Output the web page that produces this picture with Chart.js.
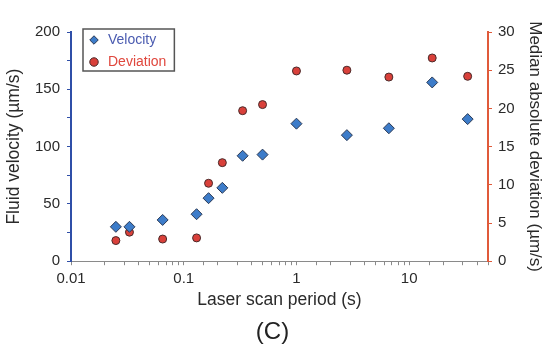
<!DOCTYPE html>
<html>
<head>
<meta charset="utf-8">
<script src="https://cdn.jsdelivr.net/npm/chart.js@4"></script>
<style>html,body{margin:0;padding:0;background:#fff;}</style>
</head>
<body>
<canvas id="myChart" width="545" height="347"></canvas>
<script>
var periods = [0.025, 0.033, 0.065, 0.13, 0.166, 0.22, 0.333, 0.5, 1, 2.8, 6.6, 16, 33];
var velocity = [30, 30, 36, 41, 55, 64, 92, 93, 120, 110, 116, 156, 124];
var deviation = [2.7, 3.8, 2.9, 3.05, 10.2, 12.9, 19.7, 20.5, 24.9, 25, 24.1, 26.6, 24.2];
var seriesNames = ['Velocity', 'Deviation'];
var legendColors = ['#4a5bb0', '#e0473d'];

function toPoints(ys) {
    return periods.map(function (p, i) { return { x: p, y: ys[i] }; });
}

Chart.defaults.font.family = "'Liberation Sans', Arial, sans-serif";
Chart.defaults.color = '#2a2a2a';

// put the legend in the top-left corner of the plot and draw a frame round it
var legendFrame = {
    id: 'legendFrame',
    afterLayout: function (chart) {
        var lg = chart.legend;
        var area = chart.chartArea;
        lg.left = area.left + 8;
        lg.top = area.top - 7;
        lg.right = lg.left + lg.width;
        lg.bottom = lg.top + lg.height;
    },
    afterDraw: function (chart) {
        var boxes = chart.legend.legendHitBoxes;
        if (!boxes || !boxes.length) return;
        var x0 = Infinity, y0 = Infinity, x1 = -Infinity, y1 = -Infinity;
        boxes.forEach(function (b) {
            x0 = Math.min(x0, b.left); y0 = Math.min(y0, b.top);
            x1 = Math.max(x1, b.left + b.width); y1 = Math.max(y1, b.top + b.height);
        });
        var ctx = chart.ctx;
        ctx.save();
        ctx.strokeStyle = '#555';
        ctx.lineWidth = 1.5;
        ctx.strokeRect(x0 - 4, y0 - 4, x1 - x0 + 12, y1 - y0 + 6);
        ctx.restore();
    }
};

var ctx = document.getElementById('myChart').getContext('2d');
var myChart = new Chart(ctx, {
    type: 'scatter',
    data: {
        datasets: [{
            label: seriesNames[0],
            data: toPoints(velocity),
            yAxisID: 'y',
            pointStyle: 'rectRot',
            pointRadius: 5.5,
            backgroundColor: '#3d7cc9',
            borderColor: '#2b3a55',
            borderWidth: 1
        },
        {
            label: seriesNames[1],
            data: toPoints(deviation),
            yAxisID: 'y1',
            pointStyle: 'circle',
            pointRadius: 4,
            backgroundColor: '#d9403a',
            borderColor: '#4a2a2a',
            borderWidth: 1
        }]
    },
    options: {
        responsive: false,
        animation: false,
        layout: { padding: { top: 32, left: 0, right: 0, bottom: 0 } },
        plugins: {
            tooltip: { enabled: false },
            legend: {
                position: 'chartArea',
                align: 'start',
                labels: {
                    usePointStyle: true,
                    boxWidth: 14,
                    boxHeight: 6,
                    padding: 8,
                    font: { size: 14 },
                    generateLabels: function (chart) {
                        var items = Chart.defaults.plugins.legend.labels.generateLabels(chart);
                        items.forEach(function (it, i) { it.fontColor = legendColors[i]; });
                        return items;
                    }
                }
            },
            title: {
                display: true,
                text: '(C)',
                position: 'bottom',
                color: '#222',
                font: { size: 24, weight: 'normal' },
                padding: { top: 5, bottom: 0 }
            }
        },
        scales: {
            x: {
                type: 'logarithmic',
                min: 0.01,
                max: 50,
                border: { color: '#8a8a8a', width: 1 },
                grid: { drawOnChartArea: false, tickLength: 4, color: '#8a8a8a' },
                ticks: {
                    autoSkip: false,
                    maxRotation: 0,
                    padding: 5,
                    font: { size: 15 },
                    callback: function (v) {
                        var l = Math.log10(v);
                        if (Math.abs(l - Math.round(l)) < 1e-6) return String(+v.toPrecision(6));
                        return '';
                    }
                },
                title: {
                    display: true,
                    text: 'Laser scan period (s)',
                    font: { size: 17.5 },
                    padding: { top: 0, bottom: 3 }
                },
                afterFit: function (s) { s.height = 52; }
            },
            y: {
                position: 'left',
                min: 0,
                max: 200,
                border: { color: '#2f4fa8', width: 2 },
                grid: { drawOnChartArea: false, tickLength: 4, color: '#2f4fa8' },
                ticks: {
                    stepSize: 25,
                    padding: 7,
                    font: { size: 15 },
                    callback: function (v) { return v % 50 === 0 ? v : ''; }
                },
                title: {
                    display: true,
                    text: 'Fluid velocity (µm/s)',
                    font: { size: 17.5 },
                    padding: { top: 4, bottom: 0 }
                },
                afterFit: function (s) { s.width = 71; }
            },
            y1: {
                position: 'right',
                min: 0,
                max: 30,
                border: { color: '#e05a3a', width: 2 },
                grid: { drawOnChartArea: false, tickLength: 4, color: '#e05a3a' },
                ticks: { stepSize: 5, padding: 6, font: { size: 15 } },
                title: {
                    display: true,
                    text: 'Median absolute deviation (µm/s)',
                    font: { size: 17 },
                    padding: { top: 0, bottom: 0 }
                },
                afterFit: function (s) { s.width = 57; }
            }
        }
    },
    plugins: [legendFrame]
});
</script>
</body>
</html>
